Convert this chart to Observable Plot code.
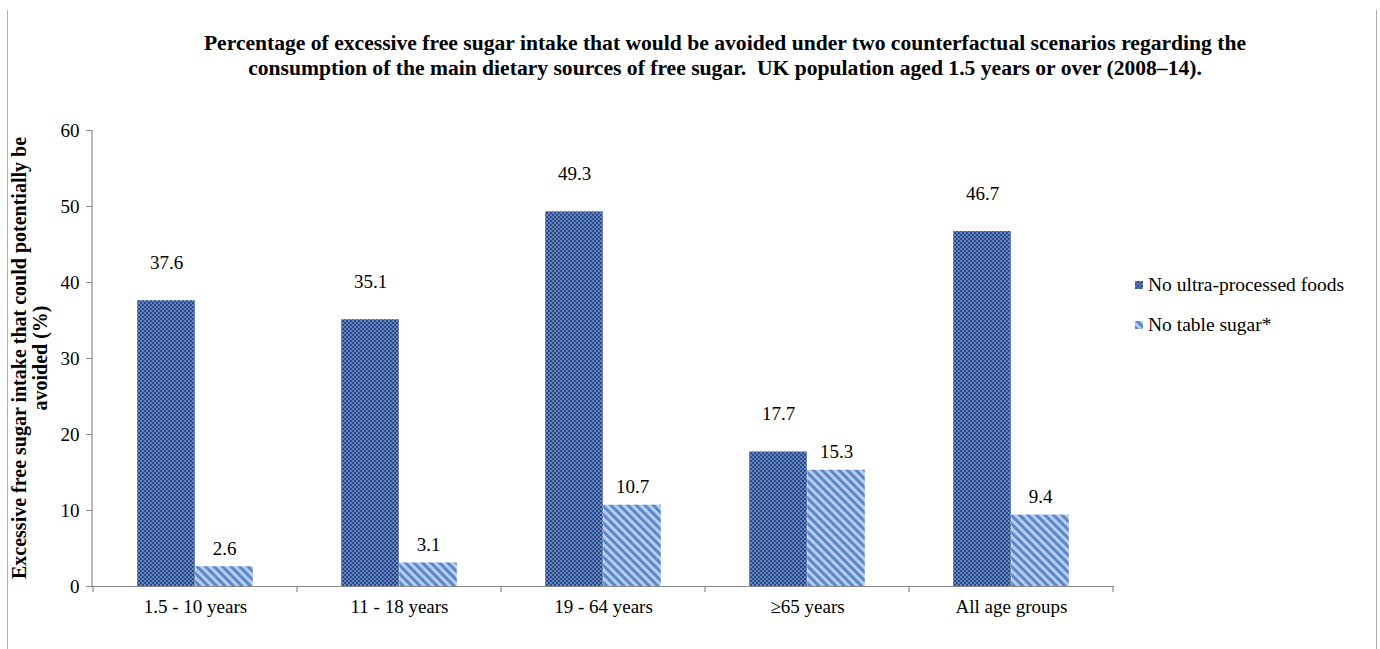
<!DOCTYPE html>
<html><head><meta charset="utf-8">
<script src="https://cdn.jsdelivr.net/npm/d3@7"></script>
<script src="https://cdn.jsdelivr.net/npm/@observablehq/plot@0.6"></script>
<style>
body{margin:0;background:#fff;}
#wrap{position:relative;width:1380px;height:649px;overflow:hidden;font-family:"Liberation Serif","Times New Roman",serif;color:#000;background:#fff;}
.border{position:absolute;top:10px;bottom:0;width:1px;background:#b0b0b0;}
#title{position:absolute;left:0;width:1450px;top:31px;text-align:center;font-weight:bold;font-size:21.6px;line-height:25px;white-space:pre;}
#ytitle{position:absolute;width:480px;height:44px;left:-209px;top:336px;transform:rotate(-90deg);transform-origin:50% 50%;text-align:center;font-weight:bold;font-size:20px;line-height:21px;}
#chart{position:absolute;left:0;top:100px;}
#legend{position:absolute;left:1135px;top:273px;font-size:19.5px;}
.lrow{display:flex;align-items:center;height:24px;margin-bottom:16px;white-space:nowrap;}
.lrow svg{margin-right:5px;}
#chart svg text{font-family:"Liberation Serif","Times New Roman",serif;}
</style></head><body>
<div id="wrap">
  <svg width="0" height="0" style="position:absolute">
    <defs>
      <pattern id="pUPF" width="4" height="4" patternUnits="userSpaceOnUse">
        <rect width="4" height="4" fill="#2b4b88"/>
        <rect width="2" height="2" fill="#6384be"/>
        <rect x="2" y="2" width="2" height="2" fill="#6384be"/>
      </pattern>
      <pattern id="pSugar" width="6" height="6" patternUnits="userSpaceOnUse" patternTransform="rotate(-45)">
        <rect width="6" height="6" fill="#b8cdec"/>
        <rect width="3" height="6" fill="#5a88cd"/>
      </pattern>
    </defs>
  </svg>
  <div class="border" style="left:7px"></div>
  <div class="border" style="left:1376px"></div>
  <div id="title"></div>
  <div id="ytitle"></div>
  <div id="chart"></div>
  <div id="legend"></div>
</div>
<script>
const titleLines = [
  "Percentage of excessive free sugar intake that would be avoided under two counterfactual scenarios regarding the",
  "consumption of the main dietary sources of free sugar.  UK population aged 1.5 years or over (2008\u201214)."
];
const yTitleLines = ["Excessive free sugar intake that could potentially be", "avoided (%)"];
const categories = ["1.5 - 10 years", "11 - 18 years", "19 - 64 years", "\u226565 years", "All age groups"];
const seriesNames = ["No ultra-processed foods", "No table sugar*"];
const upfValues = [37.6, 35.1, 49.3, 17.7, 46.7];
const sugarValues = [2.6, 3.1, 10.7, 15.3, 9.4];
const yTicks = [0, 10, 20, 30, 40, 50, 60];
const seriesFills = ["url(#pUPF)", "url(#pSugar)"];

document.getElementById("title").innerHTML = titleLines.join("<br>");
document.getElementById("ytitle").innerHTML = yTitleLines.join("<br>");
document.getElementById("legend").innerHTML = seriesNames.map((s, i) =>
  `<div class="lrow"><svg width="8" height="8"><rect width="8" height="8" fill="${seriesFills[i]}"/></svg><span>${s}</span></div>`
).join("");

const upfRows = categories.map((c, i) => ({cat: c, v: upfValues[i]}));
const sugarRows = categories.map((c, i) => ({cat: c, v: sugarValues[i]}));

const W = 1380, H = 530, mL = 92, mR = 266, mT = 30, mB = 44;
const step = (W - mL - mR) / categories.length;
const half = step / 2;
const BW = 58;
const FS = 19;

const chart = Plot.plot({
  width: W, height: H,
  marginTop: mT, marginBottom: mB, marginLeft: mL, marginRight: mR,
  style: {fontFamily: "Liberation Serif, Times New Roman, serif", fontSize: FS + "px", color: "#000", background: "transparent", overflow: "visible"},
  x: {domain: categories, padding: 0, label: null},
  y: {domain: [0, 60], label: null},
  marks: [
    Plot.barY(upfRows, {x: "cat", y: "v", fill: seriesFills[0], insetLeft: half - BW, insetRight: half}),
    Plot.barY(sugarRows, {x: "cat", y: "v", fill: seriesFills[1], insetLeft: half, insetRight: half - BW}),
    Plot.ruleY([0], {stroke: "#8a8a8a", strokeWidth: 1.2}),
    Plot.axisY({ticks: yTicks, tickSize: 6, tickPadding: 7, stroke: "#8a8a8a", fill: "#000", fontSize: FS, label: null, tickFormat: d => String(d)}),
    Plot.axisX({tickSize: 0, tickPadding: 13, fill: "#000", fontSize: FS, label: null}),
    Plot.text(upfRows, {x: "cat", y: "v", text: d => d.v.toFixed(1), dx: -BW / 2, dy: -38, fontSize: FS, fill: "#000"}),
    Plot.text(sugarRows, {x: "cat", y: "v", text: d => d.v.toFixed(1), dx: BW / 2, dy: -18, fontSize: FS, fill: "#000"})
  ]
});

const xs = chart.scale("x");
const ys = chart.scale("y");
const y0 = ys.apply(0), y60 = ys.apply(60);
const g = d3.select(chart).append("g").attr("stroke", "#8a8a8a").attr("stroke-width", 1.2);
g.append("line").attr("x1", mL).attr("x2", mL).attr("y1", y60).attr("y2", y0);
const bounds = categories.map(c => xs.apply(c)).concat([xs.apply(categories[categories.length - 1]) + xs.bandwidth]);
bounds.forEach(b => g.append("line").attr("x1", b).attr("x2", b).attr("y1", y0).attr("y2", y0 + 6));

document.getElementById("chart").appendChild(chart);
</script>
</body></html>
